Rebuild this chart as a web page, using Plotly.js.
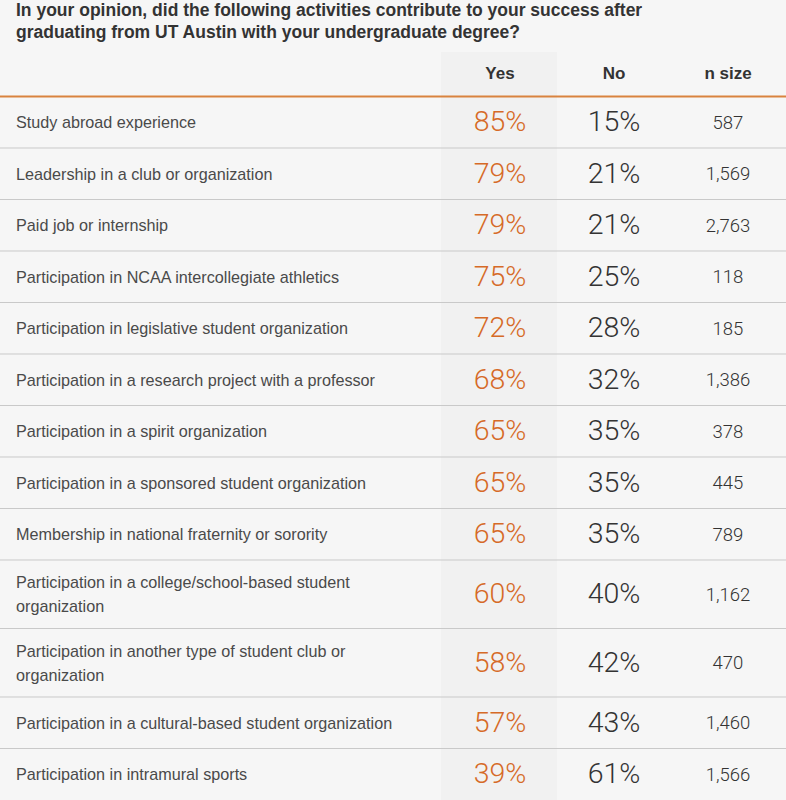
<!DOCTYPE html>
<html><head><meta charset="utf-8">
<script src="https://cdn.plot.ly/plotly-3.0.1.min.js"></script>
<style>html,body{margin:0;padding:0;background:#f6f6f6}</style>
</head><body><div id="chart" style="width:786px;height:800px"></div>
<script>
const titleLines = [
  "In your opinion, did the following activities contribute to your success after",
  "graduating from UT Austin with your undergraduate degree?"
];
const headers = ["Yes", "No", "n size"];
const activities = [
  "Study abroad experience",
  "Leadership in a club or organization",
  "Paid job or internship",
  "Participation in NCAA intercollegiate athletics",
  "Participation in legislative student organization",
  "Participation in a research project with a professor",
  "Participation in a spirit organization",
  "Participation in a sponsored student organization",
  "Membership in national fraternity or sorority",
  "Participation in a college/school-based student\norganization",
  "Participation in another type of student club or\norganization",
  "Participation in a cultural-based student organization",
  "Participation in intramural sports"
];
const yesPct = [85, 79, 79, 75, 72, 68, 65, 65, 65, 60, 58, 57, 39];
const noPct  = [15, 21, 21, 25, 28, 32, 35, 35, 35, 40, 42, 43, 61];
const nSize  = [587, 1569, 2763, 118, 185, 1386, 378, 445, 789, 1162, 470, 1460, 1566];

// layout geometry (pixel-like units on hidden axes)
const W = 786, H = 800;
const headerLineY = 96.5, headerY = 75;
const singleH = 51.5, extraLineH = 17;
const labelX = 16, yesX = 500, noX = 614, nX = 728;
const yesBand = [441, 557];
const textNudge = 2;

const rowTop = [], rowCenter = [];
let y = headerLineY;
activities.forEach(a => {
  const nLines = a.split("\n").length;
  const h = singleH + (nLines - 1) * extraLineH;
  rowTop.push(y); rowCenter.push(y + h / 2 + textNudge); y += h;
});
const rowBottoms = rowTop.map((t, i) => i < rowTop.length - 1 ? rowTop[i + 1] : y);

// label lines
const lx = [], ly = [], lt = [];
activities.forEach((a, i) => {
  const parts = a.split("\n");
  const step = 24;
  parts.forEach((p, j) => {
    lx.push(labelX); ly.push(rowCenter[i] + (j - (parts.length - 1) / 2) * step); lt.push(p);
  });
});

const numFont = "Roboto, 'Liberation Sans', Arial, sans-serif";
const boldFont = "'Liberation Sans Narrow', 'Liberation Sans', Arial, sans-serif";
const traces = [
  {x: lx, y: ly, text: lt, mode: "text", textposition: "middle right",
   textfont: {family: "'Liberation Sans', Arial, sans-serif", size: 16.2, color: "#4a4a4a"}, hoverinfo: "skip"},
  {x: activities.map(() => yesX), y: rowCenter, text: yesPct.map(v => v + "%"), mode: "text", textposition: "middle center",
   textfont: {family: numFont, size: 28.5, color: "#d66a27", weight: 300}, hoverinfo: "skip"},
  {x: activities.map(() => noX), y: rowCenter, text: noPct.map(v => v + "%"), mode: "text", textposition: "middle center",
   textfont: {family: numFont, size: 28.5, color: "#333333", weight: 300}, hoverinfo: "skip"},
  {x: activities.map(() => nX), y: rowCenter, text: nSize.map(v => v.toLocaleString("en-US")), mode: "text", textposition: "middle center",
   textfont: {family: numFont, size: 18.5, color: "#333333", weight: 300}, hoverinfo: "skip"},
  {x: [yesX, noX, nX], y: [headerY, headerY, headerY], text: headers, mode: "text", textposition: "middle center",
   textfont: {family: boldFont, size: 17, color: "#333333", weight: 700}, hoverinfo: "skip"}
];

const shapes = [
  {type: "rect", xref: "x", yref: "y", x0: yesBand[0], x1: yesBand[1], y0: 52, y1: H, fillcolor: "#f1f1f1", line: {width: 0}, layer: "below"}
];
rowBottoms.slice(0, -1).forEach(b => shapes.push({type: "line", xref: "x", yref: "y", x0: 0, x1: W, y0: b, y1: b, line: {color: "#c9c9c9", width: 1}}));
shapes.push({type: "line", xref: "x", yref: "y", x0: 0, x1: W, y0: headerLineY, y1: headerLineY, line: {color: "#d9833f", width: 2}});

const layout = {
  width: W, height: H,
  margin: {l: 0, r: 0, t: 0, b: 0},
  paper_bgcolor: "#f6f6f6", plot_bgcolor: "#f6f6f6",
  showlegend: false,
  xaxis: {range: [0, W], visible: false, fixedrange: true},
  yaxis: {range: [H, 0], visible: false, fixedrange: true},
  shapes: shapes,
  annotations: titleLines.map((t, i) => ({
    text: t, xref: "x", yref: "y", x: labelX - 2, y: 10 + i * 21.5, xanchor: "left", yanchor: "middle",
    showarrow: false, font: {family: boldFont, size: 17.5, color: "#333333", weight: 700}
  }))
};
Plotly.newPlot("chart", traces, layout, {displayModeBar: false, staticPlot: true});
</script></body></html>
